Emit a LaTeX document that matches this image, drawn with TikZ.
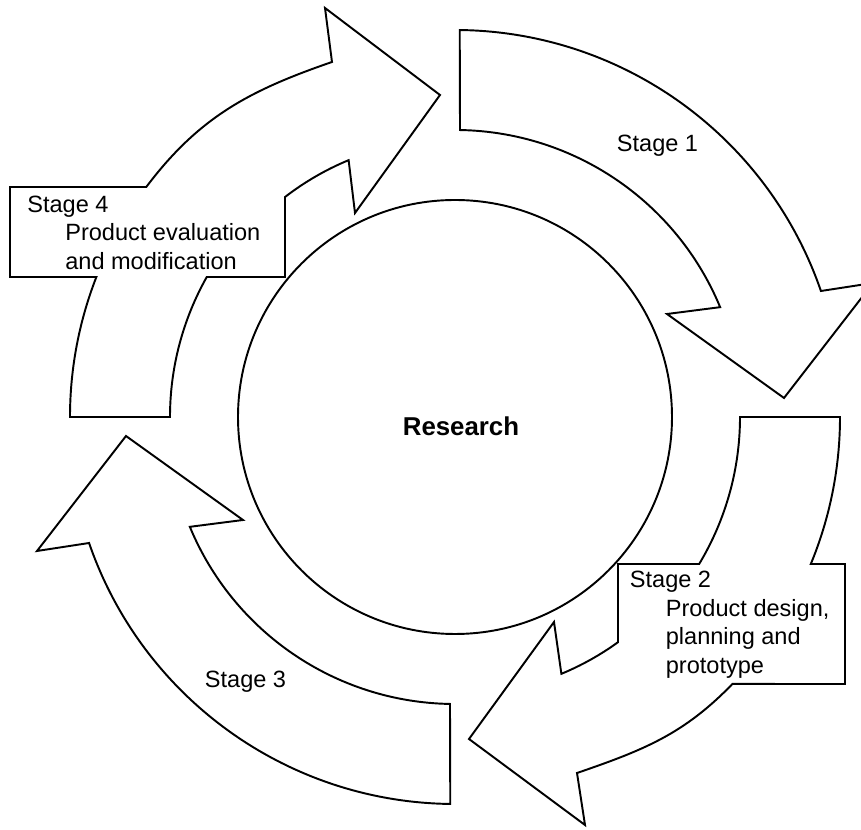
\documentclass[tikz,border=0pt]{standalone}
\usepackage{fontspec}
\setmainfont{Liberation Sans}
\tikzset{
    stagearrow/.style={draw, line width=1.1pt, fill=white, line join=miter},
    stagelabel/.style={inner sep=0pt, font=\fontsize{13.4}{16}\selectfont},
}
\begin{document}
\begin{tikzpicture}[x=0.02cm, y=0.02cm]
            \useasboundingbox (-455,-413) rectangle (406,417);
            \clip (-455,-413) rectangle (406,417);
            %\draw[lightgray] (-455,-413) grid[step=50] (406,417);
            \draw[line width=1.1pt] (0,0) circle[radius=217];
            \node[inner sep=0pt, anchor=base, font=\bfseries\fontsize{14.7}{17}\selectfont] (research) at (6,-18.7) {Research};
            % stage 1
            \draw[stagearrow] (89.3:387) arc[start angle=89.3, end angle=19, radius=387] -- (418,134) -- (329,19) -- (212,103) -- (22.5:287) arc[start angle=22.5, end angle=89, radius=287] -- cycle;
            \node[stagelabel, anchor=base] (stage1) at (202.5,265.3) {Stage 1};
            % stage 2
            \draw[stagearrow] (0:385) arc[start angle=0, end angle=-22.45, radius=385] -- (390,-147) -- (390,-267) -- (-43.9:385) to[out=-134, in=19] (122,-356) -- (130,-408) -- (14,-322) -- (99,-205) -- (-67.5:278) arc[start angle=-67.5, end angle=-54.1, radius=278] -- (163,-147) -- (-31.05:285) arc[start angle=-31.05, end angle=0, radius=285] -- cycle;
            \node[stagelabel, anchor=base west] (stage2) at (174.6,-170.3) {Stage 2};
            \node[stagelabel, anchor=base west] (design) at (210.5,-199.7) {Product design,};
            \node[stagelabel, anchor=base west] (planning) at (210.5,-228) {planning and};
            \node[stagelabel, anchor=base west] (prototype) at (210.5,-256.3) {prototype};
            % stage 3
            \draw[stagearrow] (269.3:387) arc[start angle=269.3, end angle=199, radius=387] -- (-418,-134) -- (-329,-19) -- (-212,-103) -- (202.5:287) arc[start angle=202.5, end angle=269, radius=287] -- cycle;
            \node[stagelabel, anchor=base] (stage3) at (-209.5,-270.3) {Stage 3};
            % stage 4
            \draw[stagearrow] (180:385) arc[start angle=180, end angle=158.68, radius=385] -- (-445,140) -- (-445,230) -- (143.31:385) to[out=53, in=-161] (-123,355) -- (-130,409) -- (-15,322) -- (-100,204) -- (112.5:278) arc[start angle=112.5, end angle=127.7, radius=278] -- (-170,140) -- (150.58:285) arc[start angle=150.58, end angle=180, radius=285] -- cycle;
            \node[stagelabel, anchor=base west] (stage4) at (-428,204.3) {Stage 4};
            \node[stagelabel, anchor=base west] (evaluation) at (-390,176) {Product evaluation};
            \node[stagelabel, anchor=base west] (modification) at (-390,147) {and modification};
        \end{tikzpicture}
\end{document}
